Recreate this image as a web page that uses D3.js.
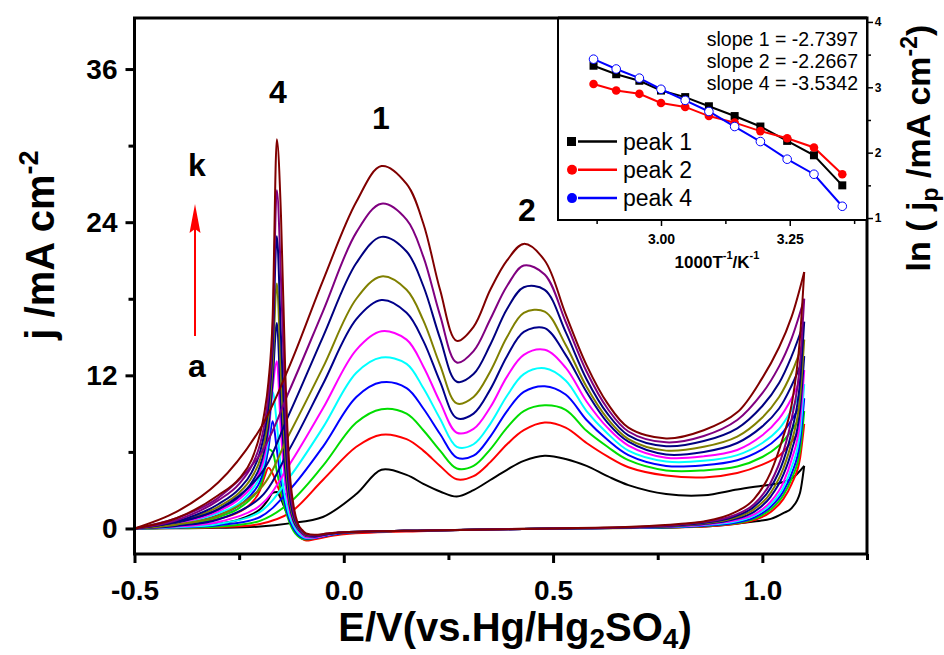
<!DOCTYPE html>
<html>
<head>
<meta charset="utf-8">
<script src="https://cdn.jsdelivr.net/npm/d3@7"></script>
<style>
  body { margin: 0; background: #fff; }
  text { font-family: 'Liberation Sans', Arial, sans-serif; font-weight: bold; }
</style>
</head>
<body>
<svg id="chart" width="944" height="655"></svg>
<script>
// curves a..k (lowest to highest temperature)
const curveIds = ['a', 'b', 'c', 'd', 'e', 'f', 'g', 'h', 'i', 'j', 'k'];
const curveColors = ['#000000', '#ff0000', '#00dd00', '#0000ff', '#00ffff', '#ff00ff',
                     '#00008b', '#808000', '#000080', '#800080', '#800000'];

// branch with peaks 1 and 2
const upperE = [-0.5, -0.4, -0.3, -0.2, -0.13, -0.05, 0.03, 0.09, 0.15, 0.19, 0.23, 0.27, 0.31, 0.35,
                0.39, 0.43, 0.48, 0.53, 0.58, 0.63, 0.68, 0.77, 0.86, 0.94, 1.0, 1.04, 1.07, 1.1];
const upperJ = [
  [0, 0.02, 0.05, 0.15, 0.4, 0.9, 2.7, 4.6, 4.2, 3.5, 2.9, 2.5, 3.0, 3.8, 4.6, 5.3, 5.7, 5.45, 4.9, 4.1, 3.4, 2.7, 2.6, 3.05, 3.35, 3.55, 3.9, 4.9],
  [0, 0.03, 0.1, 0.35, 1.2, 3.8, 6.4, 7.35, 7.0, 6.1, 4.9, 3.85, 4.1, 5.2, 6.6, 7.7, 8.3, 7.9, 6.7, 5.65, 4.8, 4.15, 4.0, 4.35, 5.0, 5.7, 6.8, 8.2],
  [0, 0.05, 0.15, 0.6, 2.0, 4.9, 8.3, 9.35, 9.0, 7.7, 6.1, 4.7, 4.9, 6.2, 7.9, 9.2, 9.65, 9.3, 7.65, 6.4, 5.35, 4.55, 4.55, 4.85, 5.6, 6.5, 7.7, 9.2],
  [0, 0.08, 0.25, 0.9, 3.0, 6.4, 10.3, 11.45, 11.0, 9.4, 7.4, 5.55, 5.7, 7.2, 9.2, 10.7, 11.15, 10.5, 8.5, 6.95, 5.75, 4.9, 4.95, 5.35, 6.2, 7.2, 8.5, 10.2],
  [0, 0.1, 0.35, 1.3, 4.0, 7.9, 12.2, 13.4, 12.9, 11.0, 8.6, 6.4, 6.6, 8.2, 10.4, 12.1, 12.55, 11.6, 9.2, 7.45, 6.1, 5.25, 5.3, 5.75, 6.7, 7.8, 9.3, 11.3],
  [0, 0.15, 0.5, 1.8, 5.0, 9.4, 14.0, 15.45, 14.8, 12.7, 9.9, 7.5, 7.8, 9.5, 11.9, 13.6, 14.0, 12.6, 9.95, 7.9, 6.5, 5.55, 5.65, 6.15, 7.3, 8.6, 10.2, 12.4],
  [0, 0.2, 0.7, 2.4, 6.2, 11.3, 16.4, 17.9, 16.9, 14.7, 11.5, 8.65, 9.0, 10.9, 13.5, 15.4, 15.7, 13.6, 10.7, 8.3, 6.8, 5.8, 6.0, 6.7, 8.0, 9.4, 11.2, 13.5],
  [0, 0.3, 1.0, 3.1, 7.4, 12.6, 18.0, 19.75, 18.7, 16.3, 12.8, 9.8, 10.3, 12.3, 15.0, 16.9, 17.0, 14.4, 11.1, 8.6, 7.0, 6.1, 6.4, 7.2, 8.7, 10.3, 12.2, 14.8],
  [0, 0.5, 1.5, 4.2, 9.0, 15.0, 20.8, 22.85, 21.7, 19.0, 14.9, 11.5, 12.1, 14.4, 17.2, 18.9, 18.7, 15.4, 11.7, 9.0, 7.3, 6.45, 6.85, 7.85, 9.6, 11.4, 13.5, 16.2],
  [0, 0.8, 2.4, 5.8, 10.8, 17.0, 23.2, 25.45, 24.2, 21.3, 16.7, 13.0, 13.9, 16.4, 19.0, 20.6, 19.9, 16.2, 12.3, 9.4, 7.6, 6.75, 7.25, 8.5, 10.6, 12.7, 14.9, 18.0],
  [0, 1.3, 3.6, 7.8, 12.7, 19.4, 25.6, 28.4, 27.0, 23.9, 18.7, 14.7, 15.8, 18.7, 21.0, 22.3, 21.0, 16.8, 12.8, 9.8, 7.9, 7.05, 7.7, 9.1, 11.8, 14.2, 16.6, 20.1]
];

// branch with the sharp peak 4
const lowerE = [-0.5, -0.4, -0.3, -0.25, -0.22, -0.2, -0.19, -0.18, -0.17, -0.16, -0.15, -0.14, -0.13, -0.12,
                -0.11, -0.1, -0.09, -0.07, -0.04, 0.0, 0.2, 0.5, 0.7, 0.8, 0.86, 0.93, 0.98, 1.02, 1.05, 1.07, 1.09, 1.1];
const lowerJ = [
  [0, 0.1, 0.35, 0.7, 1.1, 1.5, 1.85, 2.3, 2.8, 2.85, 2.3, 1.5, 0.8, 0.2, -0.3, -0.55, -0.65, -0.6, -0.45, -0.3, -0.15, 0.0, 0.05, 0.1, 0.15, 0.35, 0.55, 0.75, 1.2, 1.6, 2.8, 4.9],
  [0, 0.2, 0.75, 1.3, 2.0, 3.0, 4.0, 4.75, 4.3, 3.5, 2.6, 1.75, 0.9, 0.1, -0.5, -0.8, -0.95, -0.85, -0.65, -0.45, -0.2, 0.0, 0.03, 0.08, 0.15, 0.33, 0.65, 1.3, 2.3, 3.5, 5.5, 8.2],
  [0, 0.25, 0.9, 1.6, 2.4, 3.3, 4.4, 6.2, 6.0, 4.5, 2.9, 1.5, 0.5, -0.2, -0.6, -0.8, -0.85, -0.75, -0.55, -0.35, -0.15, 0.0, 0.04, 0.1, 0.2, 0.38, 0.75, 1.5, 2.6, 3.9, 6.1, 9.2],
  [0, 0.3, 1.05, 1.8, 2.7, 3.7, 4.7, 6.3, 8.4, 6.2, 3.7, 1.9, 0.7, 0.0, -0.45, -0.7, -0.8, -0.75, -0.55, -0.35, -0.15, 0.0, 0.05, 0.12, 0.22, 0.42, 0.85, 1.7, 2.9, 4.3, 6.8, 10.2],
  [0, 0.35, 1.2, 2.0, 3.0, 4.1, 5.2, 7.0, 10.7, 8.2, 4.6, 2.4, 1.0, 0.2, -0.3, -0.6, -0.75, -0.7, -0.5, -0.3, -0.15, 0.0, 0.06, 0.15, 0.27, 0.5, 1.0, 1.9, 3.2, 4.8, 7.5, 11.3],
  [0, 0.4, 1.35, 2.3, 3.3, 4.5, 5.6, 7.6, 11.0, 13.1, 7.5, 3.6, 1.5, 0.5, -0.1, -0.45, -0.7, -0.7, -0.5, -0.3, -0.15, 0.0, 0.07, 0.18, 0.3, 0.6, 1.1, 2.1, 3.6, 5.4, 8.4, 12.4],
  [0, 0.45, 1.5, 2.5, 3.6, 4.9, 6.1, 8.0, 11.5, 16.1, 9.5, 4.6, 1.9, 0.6, 0.0, -0.35, -0.6, -0.65, -0.45, -0.3, -0.15, 0.0, 0.08, 0.2, 0.35, 0.7, 1.3, 2.5, 4.2, 6.1, 9.3, 13.5],
  [0, 0.5, 1.7, 2.8, 4.0, 5.4, 6.7, 8.8, 12.8, 19.2, 12.0, 5.8, 2.3, 0.8, 0.1, -0.3, -0.55, -0.6, -0.45, -0.3, -0.15, 0.0, 0.1, 0.22, 0.4, 0.8, 1.5, 2.8, 4.7, 6.8, 10.3, 14.8],
  [0, 0.55, 1.9, 3.1, 4.4, 6.0, 7.4, 9.6, 14.0, 22.9, 15.0, 7.2, 2.8, 1.0, 0.2, -0.25, -0.5, -0.6, -0.45, -0.3, -0.15, 0.0, 0.1, 0.25, 0.45, 0.9, 1.7, 3.2, 5.3, 7.6, 11.5, 16.2],
  [0, 0.65, 2.2, 3.5, 4.9, 6.6, 8.1, 10.5, 15.3, 26.5, 19.5, 9.5, 3.6, 1.3, 0.3, -0.2, -0.45, -0.55, -0.4, -0.3, -0.15, 0.0, 0.12, 0.3, 0.5, 1.0, 1.9, 3.6, 6.0, 8.6, 13.0, 18.0],
  [0, 0.8, 2.6, 3.9, 5.4, 7.4, 9.0, 11.5, 16.5, 30.5, 24.5, 12.5, 4.8, 1.8, 0.4, -0.1, -0.4, -0.5, -0.4, -0.3, -0.15, 0.0, 0.15, 0.35, 0.55, 1.2, 2.3, 4.4, 7.2, 9.7, 15.0, 20.1]
];

// inset: Arrhenius plot
const invT = [2.869, 2.913, 2.958, 3.000, 3.047, 3.093, 3.143, 3.193, 3.245, 3.297, 3.352];
const lnPeak1 = [3.33, 3.20, 3.10, 2.95, 2.85, 2.71, 2.56, 2.40, 2.18, 1.96, 1.50];
const lnPeak2 = [3.05, 2.95, 2.90, 2.76, 2.70, 2.56, 2.46, 2.33, 2.22, 2.08, 1.67];
const lnPeak4 = [3.43, 3.28, 3.14, 2.97, 2.80, 2.63, 2.40, 2.17, 1.90, 1.67, 1.18];
const slopeLabels = ['slope 1 = -2.7397', 'slope 2 = -2.2667', 'slope 4 = -3.5342'];
const legendLabels = ['peak 1', 'peak 2', 'peak 4'];

const xMajor = [-0.5, 0.0, 0.5, 1.0];
const xMinor = [-0.25, 0.25, 0.75, 1.25];
const yMajor = [0, 12, 24, 36];
const yMinor = [6, 18, 30];
const insetXMajor = [3.00, 3.25];
const insetXMinor = [2.875, 3.125, 3.375];
const insetYMajor = [1, 2, 3, 4];
const insetYMinor = [1.5, 2.5, 3.5];

const svg = d3.select('#chart');
const L = 134.5, R = 867, T = 18, B = 554;

const x = d3.scaleLinear().domain([-0.5, 1.25]).range([L, R]);
const y = d3.scaleLinear().domain([-2, 40]).range([B, T]);

svg.append('clipPath').attr('id', 'plotclip')
  .append('rect').attr('x', L).attr('y', T).attr('width', R - L).attr('height', B - T);

// curves
const lineUp = d3.line().x(d => x(d[0])).y(d => y(d[1])).curve(d3.curveCatmullRom.alpha(0.5));
const lineLo = d3.line().x(d => x(d[0])).y(d => y(d[1])).curve(d3.curveMonotoneX);
const gCurves = svg.append('g').attr('clip-path', 'url(#plotclip)');
curveIds.forEach((id, i) => {
  const up = upperE.map((e, k) => [e, upperJ[i][k]]);
  const lo = lowerE.map((e, k) => [e, lowerJ[i][k]]);
  gCurves.append('path').attr('d', lineLo(lo))
    .attr('fill', 'none').attr('stroke', curveColors[i]).attr('stroke-width', 2);
  gCurves.append('path').attr('d', lineUp(up))
    .attr('fill', 'none').attr('stroke', curveColors[i]).attr('stroke-width', 2);
});

// axes
const fmt1 = d => d.toFixed(1);
const gx = svg.append('g').attr('transform', `translate(0,${B})`);
gx.call(d3.axisBottom(x).tickValues(xMajor).tickSize(9).tickFormat(fmt1));
gx.selectAll('.tick text').attr('font-size', 28).attr('y', 46).attr('dy', 0);
const gxm = svg.append('g').attr('transform', `translate(0,${B})`);
gxm.call(d3.axisBottom(x).tickValues(xMinor).tickSize(6).tickFormat(''));

const gy = svg.append('g').attr('transform', `translate(${L},0)`);
gy.call(d3.axisLeft(y).tickValues(yMajor).tickSize(9));
gy.selectAll('.tick text').attr('font-size', 28).attr('x', -17);
const gym = svg.append('g').attr('transform', `translate(${L},0)`);
gym.call(d3.axisLeft(y).tickValues(yMinor).tickSize(6).tickFormat(''));

[gx, gxm, gy, gym].forEach(g => {
  g.select('.domain').remove();
  g.selectAll('.tick line').attr('stroke', '#000').attr('stroke-width', 3);
  g.selectAll('.tick text').attr('fill', '#000');
});

svg.append('rect').attr('x', L).attr('y', T).attr('width', R - L).attr('height', B - T)
  .attr('fill', 'none').attr('stroke', '#000').attr('stroke-width', 3);

// axis titles
const yl = svg.append('text').attr('transform', 'translate(54,245) rotate(-90)')
  .attr('text-anchor', 'middle').attr('font-size', 40);
yl.append('tspan').text('j /mA cm');
yl.append('tspan').attr('dy', -16).attr('font-size', 27).text('-2');

const xl = svg.append('text').attr('x', 515).attr('y', 641)
  .attr('text-anchor', 'middle').attr('font-size', 40);
xl.append('tspan').text('E/V(vs.Hg/Hg');
xl.append('tspan').attr('dy', 7).attr('font-size', 28).text('2');
xl.append('tspan').attr('dy', -7).text('SO');
xl.append('tspan').attr('dy', 7).attr('font-size', 28).text('4');
xl.append('tspan').attr('dy', -7).text(')');

// peak labels and arrow
const peakLabels = [['4', 278, 92], ['1', 381, 118], ['2', 527, 210], ['k', 197, 165], ['a', 197, 366]];
svg.selectAll('.plab').data(peakLabels).join('text').attr('class', 'plab')
  .attr('x', d => d[1]).attr('y', d => d[2]).attr('text-anchor', 'middle')
  .attr('dominant-baseline', 'central').attr('font-size', 32).text(d => d[0]);
svg.append('line').attr('x1', 195).attr('y1', 336).attr('x2', 195).attr('y2', 228)
  .attr('stroke', '#ff0000').attr('stroke-width', 2);
svg.append('path').attr('d', 'M195,204 L189.5,233 L195,229 L200.5,233 Z').attr('fill', '#ff0000');

// inset
const iL = 558, iR = R, iT = T, iB = 220;
const ix = d3.scaleLinear().domain([2.8, 3.4]).range([iL, iR]);
const iy = d3.scaleLinear().domain([0.97, 4.06]).range([iB, iT]);
svg.append('rect').attr('x', iL).attr('y', iT).attr('width', iR - iL).attr('height', iB - iT)
  .attr('fill', '#fff').attr('stroke', '#000').attr('stroke-width', 2);
svg.append('line').attr('x1', iL).attr('x2', iR).attr('y1', T).attr('y2', T)
  .attr('stroke', '#000').attr('stroke-width', 3);

const gix = svg.append('g').attr('transform', `translate(0,${iB})`);
gix.call(d3.axisBottom(ix).tickValues(insetXMajor).tickSize(6).tickFormat(d => d.toFixed(2)));
gix.selectAll('text').attr('font-size', 14).attr('dy', '1.1em');
const gixm = svg.append('g').attr('transform', `translate(0,${iB})`);
gixm.call(d3.axisBottom(ix).tickValues(insetXMinor).tickSize(4).tickFormat(''));
const giy = svg.append('g').attr('transform', `translate(${iR},0)`);
giy.call(d3.axisRight(iy).tickValues(insetYMajor).tickSize(6).tickFormat(d3.format('d')));
giy.selectAll('text').attr('font-size', 12).attr('dx', '-0.1em');
const giym = svg.append('g').attr('transform', `translate(${iR},0)`);
giym.call(d3.axisRight(iy).tickValues(insetYMinor).tickSize(4).tickFormat(''));
[gix, gixm, giy, giym].forEach(g => {
  g.select('.domain').remove();
  g.selectAll('.tick line').attr('stroke', '#000').attr('stroke-width', 1.5);
  g.selectAll('.tick text').attr('fill', '#000');
});

const iline = d3.line().x((d, k) => ix(invT[k])).y(d => iy(d));
const series = [
  { vals: lnPeak1, color: '#000', shape: 'square' },
  { vals: lnPeak2, color: '#ff0000', shape: 'circle' },
  { vals: lnPeak4, color: '#0000ff', shape: 'open' }
];
series.forEach(s => {
  svg.append('path').attr('d', iline(s.vals)).attr('fill', 'none')
    .attr('stroke', s.color).attr('stroke-width', 2);
});
series.forEach(s => {
  const g = svg.append('g');
  s.vals.forEach((v, k) => {
    if (s.shape === 'square') {
      g.append('rect').attr('x', ix(invT[k]) - 4).attr('y', iy(v) - 4)
        .attr('width', 8).attr('height', 8).attr('fill', '#000');
    } else if (s.shape === 'circle') {
      g.append('circle').attr('cx', ix(invT[k])).attr('cy', iy(v)).attr('r', 4.3).attr('fill', '#ff0000');
    } else {
      g.append('circle').attr('cx', ix(invT[k])).attr('cy', iy(v)).attr('r', 4.3)
        .attr('fill', '#fff').attr('stroke', '#0000ff').attr('stroke-width', 1);
    }
  });
});

// slope texts
slopeLabels.forEach((t, k) => {
  svg.append('text').attr('x', 858).attr('y', 38.5 + k * 22).attr('text-anchor', 'end')
    .attr('dominant-baseline', 'central').style('font-weight', 'normal').attr('font-size', 19.5).text(t);
});

// legend
legendLabels.forEach((t, k) => {
  const ly = 141.5 + k * 28.3;
  const s = series[k];
  svg.append('line').attr('x1', 578).attr('x2', 617).attr('y1', ly).attr('y2', ly)
    .attr('stroke', s.color).attr('stroke-width', 2.5);
  if (s.shape === 'square') {
    svg.append('rect').attr('x', 567).attr('y', ly - 4.5).attr('width', 9).attr('height', 9).attr('fill', '#000');
  } else {
    svg.append('circle').attr('cx', 572).attr('cy', ly).attr('r', 5).attr('fill', s.color);
  }
  svg.append('text').attr('x', 623).attr('y', ly).attr('dominant-baseline', 'central')
    .style('font-weight', 'normal').attr('font-size', 23).text(t);
});

// inset titles
const itx = svg.append('text').attr('x', 717).attr('y', 262).attr('text-anchor', 'middle')
  .attr('dominant-baseline', 'central').attr('font-size', 17);
itx.append('tspan').text('1000T');
itx.append('tspan').attr('dy', -7).attr('font-size', 11).text('-1');
itx.append('tspan').attr('dy', 7).text('/K');
itx.append('tspan').attr('dy', -7).attr('font-size', 11).text('-1');

const ity = svg.append('text').attr('transform', 'translate(930,148) rotate(-90)')
  .attr('text-anchor', 'middle').attr('font-size', 34);
ity.append('tspan').text('ln ( j');
ity.append('tspan').attr('dy', 8).attr('font-size', 23).text('p');
ity.append('tspan').attr('dy', -8).text(' /mA cm');
ity.append('tspan').attr('dy', -13).attr('font-size', 23).text('-2');
ity.append('tspan').attr('dy', 13).text(')');
</script>
</body>
</html>
